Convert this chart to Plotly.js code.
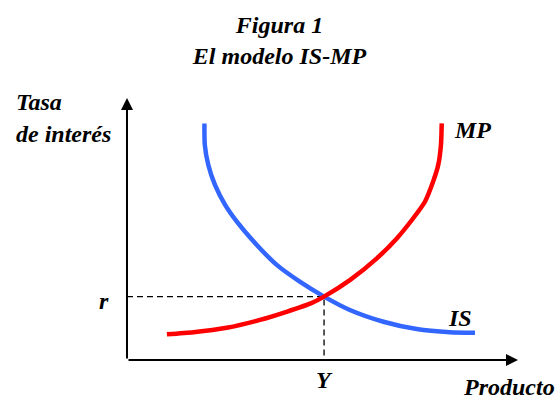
<!DOCTYPE html>
<html>
<head>
<meta charset="utf-8">
<script src="https://cdn.plot.ly/plotly-3.0.1.min.js"></script>
<style>
  html, body { margin: 0; padding: 0; background: #ffffff; }
  #chart { width: 559px; height: 400px; }
</style>
</head>
<body>
<div id="chart"></div>
<script>
// IS curve: output vs. interest rate (downward sloping)
const isX = [19.8, 19.9, 20.8, 22.5, 25.1, 28.1, 33.2, 38.3, 44.2, 50.4, 57.0, 65.6, 74.1, 82.6, 89.0];
const isY = [90.3, 82.1, 74.4, 66.8, 59.2, 52.8, 43.9, 36.3, 29.9, 24.2, 19.1, 14.6, 11.8, 10.6, 10.4];

// MP curve: monetary policy rule (upward sloping)
const mpX = [10.2, 17.0, 25.5, 34.0, 40.8, 47.0, 50.4, 57.0, 63.9, 69.0, 73.2, 76.2, 78.3, 79.6, 80.3, 80.5];
const mpY = [9.8, 10.6, 12.3, 15.3, 18.4, 21.6, 24.2, 30.5, 38.8, 46.4, 54.1, 60.4, 68.1, 74.4, 82.1, 90.3];

// Equilibrium point (Y, r)
const eqOutput = 50.4;
const eqRate = 24.2;

// Text
const titleLines = ['Figura 1', 'El modelo IS-MP'];
const yAxisLabel = ['Tasa', 'de interés'];
const xAxisLabel = 'Producto';
const curveNames = ['IS', 'MP'];
const eqLabels = ['Y', 'r'];

const serif = '"Liberation Serif", "Times New Roman", serif';
const labelFont = { family: serif, size: 24, color: '#000000', weight: 'bold', style: 'italic' };

const traces = [
  // dashed guides from the equilibrium to both axes
  {
    x: [0, eqOutput, eqOutput],
    y: [eqRate, eqRate, 0],
    mode: 'lines',
    line: { color: '#000000', width: 1.3, dash: '6px,4px' },
    hoverinfo: 'skip'
  },
  {
    x: isX, y: isY, name: curveNames[0],
    mode: 'lines',
    line: { color: '#3366ff', width: 4.5, shape: 'spline', smoothing: 0.6 },
  },
  {
    x: mpX, y: mpY, name: curveNames[1],
    mode: 'lines',
    line: { color: '#ff0000', width: 4.5, shape: 'spline', smoothing: 0.6 },
  }
];

function txt(text, x, y, xanchor) {
  return { text: text, x: x, y: y, xref: 'x', yref: 'y', xanchor: xanchor || 'left',
           yanchor: 'middle', showarrow: false, font: labelFont };
}

const annotations = [
  // axis lines with arrowheads
  { x: 0, y: 100, ax: 0, ay: 0, xref: 'x', yref: 'y', axref: 'x', ayref: 'y',
    showarrow: true, arrowhead: 2, arrowsize: 1.2, arrowwidth: 2, arrowcolor: '#000000', text: '' },
  { x: 100, y: 0, ax: 0, ay: 0, xref: 'x', yref: 'y', axref: 'x', ayref: 'y',
    showarrow: true, arrowhead: 2, arrowsize: 1.2, arrowwidth: 2, arrowcolor: '#000000', text: '' },
  txt(yAxisLabel[0], -29, 98.5),
  txt(yAxisLabel[1], -29, 86.3),
  txt(xAxisLabel, 85.5, -10.3),
  txt(curveNames[1], 83.0, 87.8),
  txt(curveNames[0], 81.6, 16.0),
  txt(eqLabels[0], eqOutput, -7.5, 'center'),
  txt(eqLabels[1], -6, eqRate - 1.5, 'center')
];

// the axes span the whole canvas so that every label sits inside the data range
const layout = {
  width: 559,
  height: 400,
  margin: { l: 0, r: 0, t: 0, b: 0, pad: 0 },
  paper_bgcolor: '#ffffff',
  plot_bgcolor: '#ffffff',
  showlegend: false,
  title: {
    text: titleLines.join('<br>'),
    font: { family: serif, size: 24, color: '#000000', weight: 'bold', style: 'italic' },
    x: 0.5, xref: 'container', xanchor: 'center',
    y: 0.918, yref: 'container', yanchor: 'top'
  },
  xaxis: { range: [-32.48, 110.49], visible: false, fixedrange: true },
  yaxis: { range: [-15.27, 137.40], visible: false, fixedrange: true },
  annotations: annotations
};

Plotly.newPlot('chart', traces, layout, { displayModeBar: false, staticPlot: true });
</script>
</body>
</html>
